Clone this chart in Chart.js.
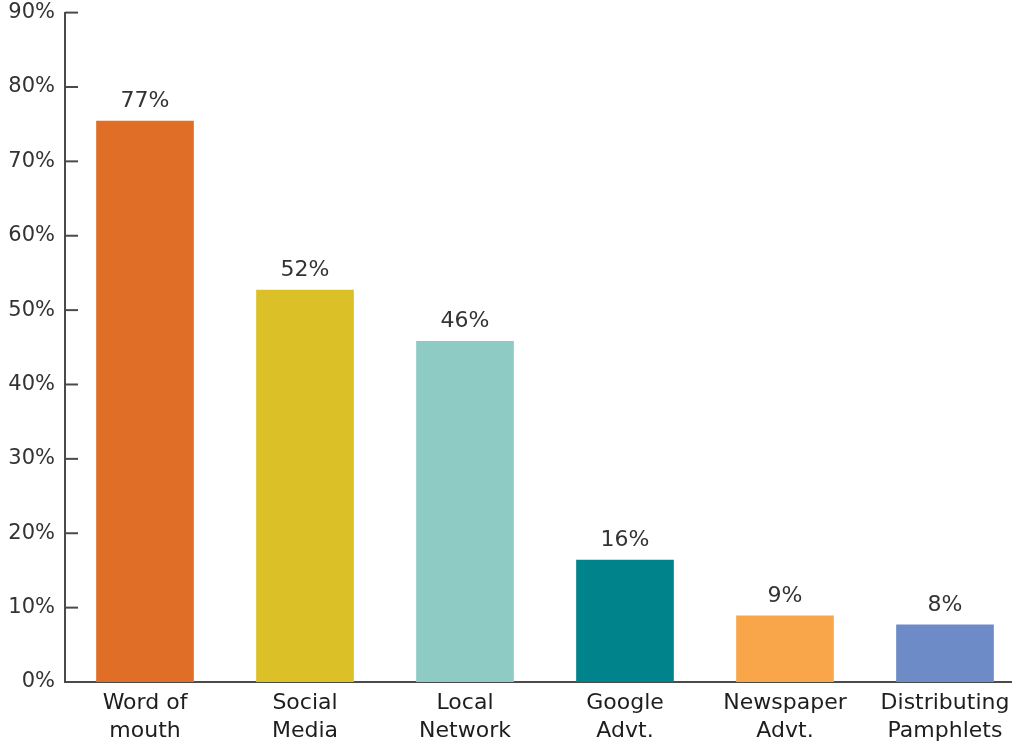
<!DOCTYPE html>
<html>
<head>
    <title>Marketing channels</title>
    <script src="https://cdn.jsdelivr.net/npm/chart.js"></script>
    <style>
        html, body { margin: 0; padding: 0; overflow: hidden; background: #fff; }
        #myChart { display: block; margin-top: -10px; }
    </style>
</head>
<body>
    <canvas id="myChart" width="1027" height="751"></canvas>
    <script>
        // values
        const categories = [["Word of", "mouth"], ["Social", "Media"], ["Local", "Network"],
            ["Google", "Advt."], ["Newspaper", "Advt."], ["Distributing", "Pamphlets"]];
        const shares = [75.4, 52.7, 45.8, 16.4, 8.9, 7.7];
        const shareLabels = ["77%", "52%", "46%", "16%", "9%", "8%"];
        const barColors = ["#E06E27", "#DCC027", "#8FCBC5", "#00838A", "#F9A64A", "#6C8BC7"];

        const axisColor = "#4a4a4a";
        const fontFamily = "'DejaVu Sans', sans-serif";

        // short tick marks that point into the plot, and the value text over each bar
        const extras = {
            id: "extras",
            afterDraw(chart) {
                const ctx = chart.ctx;
                const y = chart.scales.y;
                const left = chart.chartArea.left;
                ctx.save();
                ctx.strokeStyle = axisColor;
                ctx.lineWidth = 2;
                y.ticks.forEach((t) => {
                    const py = y.getPixelForValue(t.value);
                    ctx.beginPath();
                    ctx.moveTo(left, py);
                    ctx.lineTo(left + 13, py);
                    ctx.stroke();
                });
                ctx.fillStyle = "#333";
                ctx.font = "22px " + fontFamily;
                ctx.textAlign = "center";
                ctx.textBaseline = "alphabetic";
                chart.getDatasetMeta(0).data.forEach((bar, i) => {
                    ctx.fillText(shareLabels[i], bar.x, bar.y - 14);
                });
                ctx.restore();
            }
        };

        new Chart(document.getElementById("myChart"), {
            type: "bar",
            data: {
                labels: categories,
                datasets: [{
                    data: shares,
                    backgroundColor: barColors,
                    barThickness: 97
                }]
            },
            options: {
                responsive: false,
                animation: false,
                layout: { padding: { top: 1, right: 2, left: 0, bottom: 0 } },
                plugins: { legend: { display: false }, tooltip: { enabled: false } },
                scales: {
                    x: {
                        grid: { display: false, drawTicks: false },
                        border: { color: axisColor, width: 2 },
                        ticks: {
                            color: "#1e1e1e",
                            padding: 8,
                            maxRotation: 0,
                            font: { family: fontFamily, size: 22, lineHeight: 1.24 }
                        },
                        afterFit: (s) => { s.height = 59; }
                    },
                    y: {
                        min: 0,
                        max: 90,
                        grid: { display: false, drawTicks: false },
                        border: { color: axisColor, width: 2 },
                        ticks: {
                            stepSize: 10,
                            color: "#333",
                            padding: 10,
                            font: { family: fontFamily, size: 21 },
                            callback: (v) => v + "%"
                        },
                        afterFit: (s) => { s.width = 65; }
                    }
                }
            },
            plugins: [extras]
        });
    </script>
</body>
</html>
